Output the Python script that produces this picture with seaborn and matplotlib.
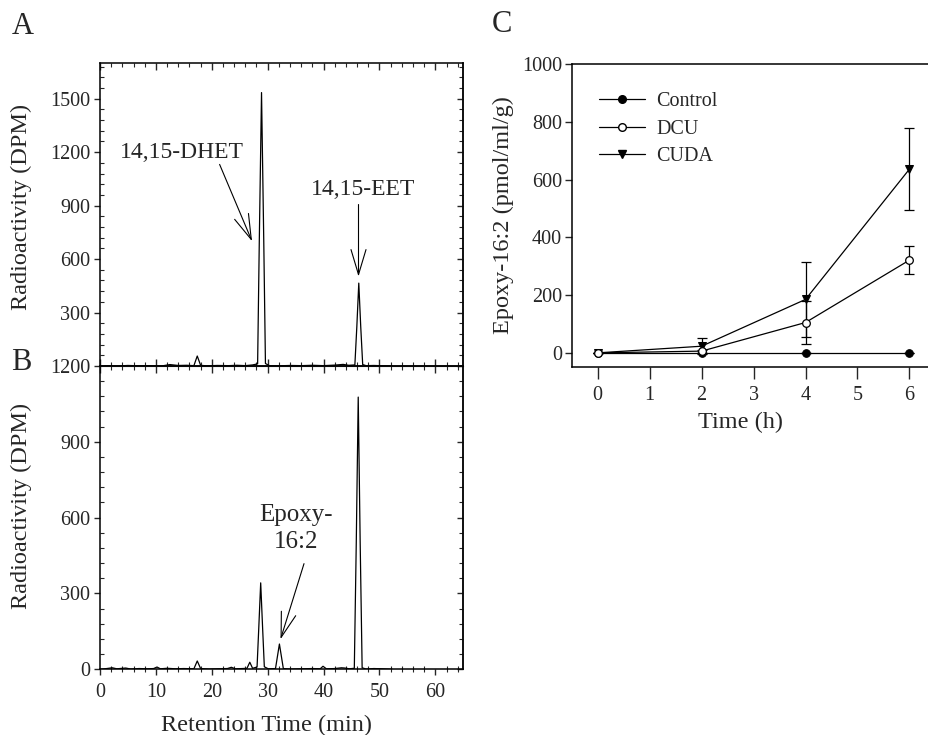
import matplotlib
matplotlib.use('Agg')
import matplotlib.pyplot as plt
import seaborn as sns
from matplotlib.ticker import MultipleLocator, FixedLocator
from matplotlib.lines import Line2D

sns.set_style('ticks')
plt.rcParams['font.family'] = ['Liberation Serif', 'DejaVu Serif']

# ---------------- data ----------------
# Panel A chromatogram (retention time in min, radioactivity in DPM)
time_a = [0, 1.5, 3, 5, 7, 9, 11, 12.5, 14, 15.5, 16.8, 17.4, 18.0, 19, 21, 23, 24.5, 26, 27.3, 28.2,
          28.5, 28.9, 29.3, 29.6, 30.3, 32, 34, 36, 38, 40, 42, 43.5, 44.5, 45.6, 45.95, 46.3, 46.65,
          47.0, 47.6, 49, 51, 52.3]
dpm_a = [0, 2, 0, 3, 1, 2, 0, 8, 3, 4, 2, 56, 4, 1, 3, 2, 4, 2, 6, 12,
         700, 1534, 700, 14, 2, 1, 3, 2, 4, 2, 5, 9, 4, 6, 220, 465, 220,
         8, 2, 3, 1, 0]

# Panel B chromatogram
time_b = [0, 1.2, 2.2, 3.0, 4.6, 5.5, 7, 8.5, 9.6, 10.2, 10.8, 12, 13.5, 15, 16.8, 17.4, 18.0, 19.5, 21, 22.8,
          23.5, 24.2, 25.5, 26.3, 26.8, 27.3, 28.1, 28.4, 28.75, 29.1, 29.4, 30.1, 31.4, 32.1, 32.8, 34, 36,
          38, 39.4, 39.9, 40.5, 42, 43.2, 43.8, 44.6, 45.5, 45.85, 46.2, 46.55, 46.9, 47.6, 49, 50.5, 52.3]
dpm_b = [0, 3, 6, 2, 5, 1, 3, 2, 3, 9, 2, 4, 2, 3, 2, 33, 3, 1, 2, 3,
         8, 2, 3, 4, 28, 4, 9, 160, 342, 160, 10, 2, 3, 100, 3, 1, 2,
         3, 2, 12, 2, 3, 6, 5, 2, 4, 500, 1077, 500, 6, 1, 3, 2, 0]

# Panel C time course
hours = [0, 2, 4, 6]
control = [0, 0, 0, 0]
control_err = [0, 0, 0, 0]
dcu = [0, 6, 105, 321]
dcu_err = [0, 5, 75, 48]
cuda = [0, 23, 185, 636]
cuda_err = [0, 28, 130, 143]

a_ticks = [300, 600, 900, 1200, 1500]
b_ticks = [0, 300, 600, 900, 1200]
c_yticks = [0, 200, 400, 600, 800, 1000]
c_xticks = [0, 1, 2, 3, 4, 5, 6]

# ---------------- figure ----------------
W, H = 929, 735
fig = plt.figure(figsize=(W / 100, H / 100), dpi=100)
fig.patch.set_facecolor('white')

def frac(left, top, right, bottom):
    return [left / W, 1 - bottom / H, (right - left) / W, (bottom - top) / H]

axA = fig.add_axes(frac(100, 63, 463.3, 366))
axB = fig.add_axes(frac(100, 366, 463.3, 669.3))
axC = fig.add_axes(frac(571.7, 64, 935.4, 367.3))

TICK_FS = 14.5
LAB_FS = 17.5
LW = 0.9

for ax in (axA, axB, axC):
    ax.set_facecolor('white')
    for s in ax.spines.values():
        s.set_linewidth(1.1)
        s.set_color('black')

sns.lineplot(x=time_a, y=dpm_a, ax=axA, color='black', lw=LW, estimator=None, sort=False)
sns.lineplot(x=time_b, y=dpm_b, ax=axB, color='black', lw=LW, estimator=None, sort=False)

for ax in (axA, axB):
    ax.set_xlim(0, 65)
    ax.xaxis.set_major_locator(MultipleLocator(10))
    ax.xaxis.set_minor_locator(MultipleLocator(2))
    ax.yaxis.set_minor_locator(MultipleLocator(60))
    ax.tick_params(axis='y', which='major', direction='out', length=4, width=1,
                   labelsize=TICK_FS, pad=3, left=True, right=False)
    ax.tick_params(axis='y', which='minor', direction='in', length=3, width=0.8, left=True, right=False)
    sec = ax.secondary_yaxis('right')
    sec.yaxis.set_major_locator(MultipleLocator(300))
    sec.yaxis.set_minor_locator(MultipleLocator(60))
    sec.tick_params(which='major', direction='in', length=4, width=1, labelright=False)
    sec.tick_params(which='minor', direction='in', length=3, width=0.8)
    sec.spines['right'].set_linewidth(1.1)

axA.set_ylim(0, 1700)
axA.yaxis.set_major_locator(FixedLocator(a_ticks))
axA.tick_params(axis='x', which='major', direction='in', length=5, width=1,
                top=True, bottom=True, labelbottom=False)
axA.tick_params(axis='x', which='minor', direction='in', length=3, width=0.8, top=True, bottom=True)
axA.set_xlabel('')
axA.set_ylabel('Radioactivity (DPM)', fontsize=LAB_FS)
axA.yaxis.set_label_coords(-0.2155, 0.526)
axA.yaxis.label.set_verticalalignment('center')

axB.set_ylim(0, 1200)
axB.yaxis.set_major_locator(FixedLocator(b_ticks))
axB.tick_params(axis='x', which='major', direction='out', length=4, width=1,
                labelsize=TICK_FS, pad=6, top=False)
axB.tick_params(axis='x', which='minor', direction='inout', length=4, width=0.8, top=False)
secx = axB.secondary_xaxis('top')
secx.xaxis.set_major_locator(MultipleLocator(10))
secx.xaxis.set_minor_locator(MultipleLocator(2))
secx.tick_params(which='major', direction='in', length=5, width=1, labeltop=False)
secx.tick_params(which='minor', direction='in', length=3, width=0.8)
axB.set_xlabel('Retention Time (min)', fontsize=LAB_FS)
axB.xaxis.set_label_coords(0.459, -0.186)
axB.xaxis.label.set_verticalalignment('center')
axB.set_ylabel('Radioactivity (DPM)', fontsize=LAB_FS)
axB.yaxis.set_label_coords(-0.2155, 0.539)
axB.yaxis.label.set_verticalalignment('center')

# annotations
ARW = dict(arrowstyle='->,head_length=1.0,head_width=0.3', color='black', lw=0.8,
           shrinkA=0, shrinkB=0, mutation_scale=18)
axA.text(14.6, 1200, '14,15-DHET', fontsize=17, ha='center', va='center')
axA.annotate('', xy=(27.2, 700), xytext=(21.4, 1131), arrowprops=ARW)
axA.text(47.0, 990, '14,15-EET', fontsize=17, ha='center', va='center')
axA.annotate('', xy=(46.25, 502), xytext=(46.25, 906), arrowprops=ARW)
axB.text(35.0, 557, 'Epoxy-\n16:2', fontsize=18, ha='center', va='center', linespacing=1.35,
         multialignment='center')
axB.annotate('', xy=(32.3, 119), xytext=(36.5, 418), arrowprops=ARW)

# ---------------- panel C ----------------
sns.lineplot(x=hours, y=cuda, ax=axC, color='black', lw=LW, marker='v', markersize=6,
             markerfacecolor='black', markeredgecolor='black', estimator=None, zorder=3)
sns.lineplot(x=hours, y=dcu, ax=axC, color='black', lw=LW, marker='o', markersize=5.5,
             markerfacecolor='white', markeredgecolor='black', markeredgewidth=0.9,
             estimator=None, zorder=4)
sns.lineplot(x=hours, y=control, ax=axC, color='black', lw=LW, marker='o', markersize=5.5,
             markerfacecolor='black', markeredgecolor='black', estimator=None, zorder=3)
for vals, errs in ((cuda, cuda_err), (dcu, dcu_err), (control, control_err)):
    axC.errorbar(hours, vals, yerr=errs, fmt='none', ecolor='black', elinewidth=0.9,
                 capsize=3.5, capthick=0.9, zorder=2)

axC.set_xlim(-0.5, 6.5)
axC.set_ylim(-50, 1000)
axC.xaxis.set_major_locator(FixedLocator(c_xticks))
axC.yaxis.set_major_locator(FixedLocator(c_yticks))
axC.tick_params(axis='x', direction='out', length=8.5, width=1, labelsize=TICK_FS, pad=5)
axC.tick_params(axis='y', direction='out', length=5, width=1, labelsize=TICK_FS, pad=2)
axC.set_xlabel('Time (h)', fontsize=LAB_FS)
axC.xaxis.set_label_coords(0.463, -0.183)
axC.xaxis.label.set_verticalalignment('center')
axC.set_ylabel('Epoxy-16:2 (pmol/ml/g)', fontsize=LAB_FS)
axC.yaxis.set_label_coords(-0.188, 0.502)
axC.yaxis.label.set_verticalalignment('center')

handles = [
    Line2D([], [], color='black', lw=LW, marker='o', markersize=5.5, markerfacecolor='black'),
    Line2D([], [], color='black', lw=LW, marker='o', markersize=5.5, markerfacecolor='white'),
    Line2D([], [], color='black', lw=LW, marker='v', markersize=6, markerfacecolor='black'),
]
axC.legend(handles, ['Control', 'DCU', 'CUDA'], loc='upper left',
           bbox_to_anchor=(599 / W, 1 - 92 / H), bbox_transform=fig.transFigure,
           frameon=False, fontsize=14.5, handlelength=2.3, handletextpad=0.55,
           labelspacing=0.42, borderpad=0, borderaxespad=0)

# panel letters
fig.text(22.7 / W, 1 - 26.7 / H, 'A', fontsize=22, ha='center', va='center')
fig.text(21.7 / W, 1 - 363 / H, 'B', fontsize=22, ha='center', va='center')
fig.text(501.7 / W, 1 - 25 / H, 'C', fontsize=22, ha='center', va='center')

fig.savefig('out.png', dpi=100, facecolor='white')
